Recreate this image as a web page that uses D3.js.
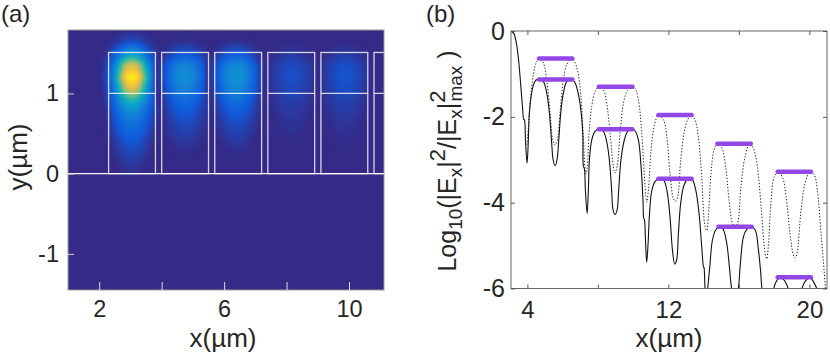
<!DOCTYPE html>
<html>
<head>
<meta charset="utf-8">
<script src="https://cdn.jsdelivr.net/npm/d3@7"></script>
<style>
  html, body { margin: 0; background: #fff; }
  text { font-family: "Liberation Sans", Arial, sans-serif; fill: #262626; }
</style>
</head>
<body>
<svg id="chart" width="830" height="357"></svg>
<script>
// panel (a), field on a coarse grid, one half of each mode (mirrored below)
const gridY = [1.8, 1.65, 1.5, 1.35, 1.2, 1.05, 0.9, 0.75, 0.6, 0.45, 0.3, 0.15, 0, -0.15]
const gridOffset = [0, 0.2, 0.4, 0.6, 0.8, 1.0]
const brightMode = [
  [0, 0, 0, 0, 0, 0],
  [0.09, 0.08, 0.05, 0.025, 0.008, 0],
  [0.34, 0.30, 0.21, 0.11, 0.035, 0.002],
  [0.80, 0.72, 0.46, 0.22, 0.08, 0.008],
  [1, 0.93, 0.60, 0.27, 0.10, 0.01],
  [0.80, 0.70, 0.44, 0.21, 0.08, 0.008],
  [0.46, 0.40, 0.28, 0.16, 0.05, 0.002],
  [0.27, 0.25, 0.19, 0.11, 0.03, 0],
  [0.19, 0.18, 0.14, 0.08, 0.015, 0],
  [0.14, 0.13, 0.09, 0.045, 0.008, 0],
  [0.09, 0.08, 0.055, 0.02, 0, 0],
  [0.05, 0.045, 0.025, 0.006, 0, 0],
  [0.018, 0.014, 0.006, 0, 0, 0],
  [0, 0, 0, 0, 0, 0]
]
const dimMode = [
  [0, 0, 0, 0, 0, 0],
  [0.06, 0.05, 0.03, 0.01, 0, 0],
  [0.40, 0.36, 0.26, 0.14, 0.04, 0],
  [0.90, 0.82, 0.64, 0.38, 0.12, 0.01],
  [1, 0.93, 0.72, 0.44, 0.14, 0.01],
  [0.86, 0.78, 0.60, 0.35, 0.11, 0.01],
  [0.58, 0.53, 0.40, 0.23, 0.06, 0],
  [0.40, 0.37, 0.27, 0.15, 0.03, 0],
  [0.27, 0.24, 0.17, 0.09, 0.01, 0],
  [0.17, 0.15, 0.10, 0.04, 0, 0],
  [0.07, 0.06, 0.03, 0.01, 0, 0],
  [0.01, 0, 0, 0, 0, 0],
  [0, 0, 0, 0, 0, 0],
  [0, 0, 0, 0, 0, 0]
]
const modeCentres = [3.05, 4.75, 6.4, 8.17, 9.87]
const modeAmps = [1, 0.31, 0.33, 0.10, 0.115]
const boxLeft = [2.3, 4.0, 5.7, 7.4, 9.1, 10.8]
const boxWidth = 1.5
const boxTop = 1.51
const boxMid = 1.0
const parula = ['#352a87', '#0f5cdd', '#1481d6', '#06a4ca', '#2eb7a4', '#87bf77', '#d1bb59', '#fec832', '#f9fb0e']

// panel (b), curves
const solidX = [3.07, 3.22, 3.36, 3.49, 3.60, 3.72, 3.79, 3.83, 3.89, 3.98, 4.04, 4.11, 4.21, 4.34, 4.49, 4.68,
  4.91, 5.10, 5.25, 5.38, 5.46, 5.57, 5.68, 5.78, 5.89, 6.04, 6.23, 6.48,
  6.67, 6.86, 7.01, 7.14, 7.18, 7.23, 7.29, 7.39, 7.46, 7.52, 7.65, 7.84, 8.07,
  8.31, 8.50, 8.65, 8.78, 8.86, 8.97, 9.09, 9.18, 9.31, 9.50, 9.69, 9.92,
  10.11, 10.30, 10.45, 10.56, 10.60, 10.64, 10.70, 10.77, 10.85, 10.92, 11.05, 11.24, 11.47,
  11.72, 11.91, 12.09, 12.23, 12.36, 12.47, 12.57, 12.70, 12.89, 13.13, 13.36,
  13.55, 13.74, 13.89, 13.99, 14.02, 14.08, 14.16, 14.23, 14.35, 14.50, 14.69, 14.93,
  15.12, 15.31, 15.46, 15.59, 15.78, 15.97, 16.07, 16.26, 16.44, 16.67,
  16.92, 17.11, 17.24, 17.31, 17.64, 17.98, 18.09, 18.34, 18.58, 18.81, 19.19, 19.57, 19.75, 20.04, 20.23, 20.42]
const solidY = [0, -0.05, -0.25, -0.64, -1.14, -1.76, -2.06, -2.07, -2.54, -3.08, -2.69, -1.92, -1.53, -1.26, -1.14, -1.13,
  -1.18, -1.45, -1.92, -2.62, -3.00, -3.14, -3.00, -2.54, -1.92, -1.45, -1.18, -1.13,
  -1.18, -1.41, -1.76, -2.38, -3.16, -3.20, -3.70, -4.25, -3.70, -3.00, -2.54, -2.34, -2.29,
  -2.34, -2.58, -3.00, -3.70, -4.17, -4.28, -4.17, -3.70, -3.00, -2.54, -2.34, -2.29,
  -2.33, -2.54, -3.16, -3.94, -4.36, -4.39, -4.87, -5.39, -4.94, -4.32, -3.74, -3.51, -3.44,
  -3.47, -3.70, -4.32, -5.10, -5.43, -5.33, -4.71, -4.01, -3.59, -3.44,
  -3.47, -3.70, -4.25, -5.02, -5.49, -5.51, -6.0, -6.34, -6.0, -5.49, -4.87, -4.63, -4.56,
  -4.63, -4.94, -5.49, -6.0, -6.3, -6.0, -5.49, -4.79, -4.63, -4.56,
  -4.63, -5.10, -5.64, -6.0, -6.6, -6.0, -5.86, -5.74, -5.81, -6.0, -6.3, -6.0, -5.84, -5.74, -5.84, -6.0]
const dottedX = [3.98, 4.06, 4.19, 4.34, 4.49, 4.68, 4.91, 5.10, 5.29, 5.44, 5.57, 5.70, 5.85, 6.04, 6.23, 6.48,
  6.67, 6.86, 7.04, 7.18, 7.27, 7.33, 7.40, 7.50, 7.65, 7.84, 8.07,
  8.31, 8.50, 8.69, 8.88, 8.97, 9.09, 9.26, 9.45, 9.67, 9.92,
  10.11, 10.30, 10.49, 10.68, 10.77, 10.87, 11.02, 11.21, 11.43,
  11.72, 11.91, 12.09, 12.28, 12.40, 12.53, 12.70, 12.89, 13.10, 13.32,
  13.51, 13.70, 13.89, 14.08, 14.18, 14.27, 14.42, 14.59, 14.78,
  15.03, 15.25, 15.44, 15.63, 15.78, 15.93, 16.12, 16.35, 16.60,
  16.82, 17.05, 17.26, 17.49, 17.58, 17.67, 17.83, 18.01, 18.24,
  18.49, 18.68, 18.90, 19.09, 19.19, 19.30, 19.51, 19.75, 20.04,
  20.27, 20.45, 20.66, 20.89, 20.93]
const dottedY = [-2.65, -2.23, -1.53, -1.02, -0.75, -0.64, -0.75, -1.14, -1.92, -2.54, -2.66, -2.54, -1.92, -1.14, -0.79, -0.64,
  -0.71, -0.95, -1.53, -2.54, -3.20, -3.33, -3.16, -2.38, -1.76, -1.41, -1.30,
  -1.37, -1.68, -2.38, -3.16, -3.31, -3.16, -2.38, -1.68, -1.39, -1.30,
  -1.34, -1.61, -2.38, -3.62, -3.99, -3.70, -2.77, -2.19, -1.96,
  -2.07, -2.46, -3.31, -3.90, -3.97, -3.86, -3.00, -2.38, -2.06, -1.96,
  -2.07, -2.46, -3.39, -4.56, -4.65, -4.32, -3.31, -2.77, -2.63,
  -2.73, -3.16, -3.94, -4.48, -4.60, -4.48, -3.62, -2.93, -2.63,
  -2.73, -3.16, -4.09, -5.18, -5.31, -5.02, -3.94, -3.39, -3.28,
  -3.43, -3.86, -4.71, -5.22, -5.29, -5.18, -4.25, -3.55, -3.28,
  -3.35, -3.70, -4.71, -5.88, -6.22]
const barStart = [4.66, 8.05, 11.43, 14.84, 18.20]
const barEnd = [6.55, 9.96, 13.32, 16.73, 20.09]
const dottedBarStart = [4.66, 8.05, 11.43, 14.78, 18.20]
const dottedBarEnd = [6.55, 9.96, 13.32, 16.68, 20.09]
const solidLevels = [-1.13, -2.29, -3.44, -4.56, -5.74]
const dottedLevels = [-0.64, -1.30, -1.96, -2.63, -3.28]

const svg = d3.select('#chart')
const defs = svg.append('defs')

// ---- panel (a)
const xa = d3.scaleLinear().domain([1, 11.12]).range([68, 384])
const ya = d3.scaleLinear().domain([-1.45, 1.79]).range([290, 30])

defs.append('clipPath').attr('id', 'clipa').append('rect')
  .attr('x', 68).attr('y', 30).attr('width', 316).attr('height', 260)
defs.append('filter').attr('id', 'soften')
  .attr('x', '-5%').attr('y', '-5%').attr('width', '110%').attr('height', '110%')
  .attr('color-interpolation-filters', 'sRGB')
  .append('feGaussianBlur').attr('stdDeviation', 0.8)

const pa = svg.append('g')
pa.append('rect').attr('x', 68).attr('y', 30).attr('width', 316).attr('height', 260).attr('fill', parula[0])

const colour = d3.scaleLinear().domain(d3.range(parula.length).map(d => d / (parula.length - 1))).range(parula)
const levels = d3.range(0.006, 1.001, 0.014)
const nx = gridOffset.length * 2 - 1
const ny = gridY.length
const field = pa.append('g').attr('clip-path', 'url(#clipa)').append('g').attr('filter', 'url(#soften)')

modeCentres.forEach((cx, m) => {
  const half = m === 0 ? brightMode : dimMode
  const values = []
  half.forEach(row => {
    const full = row.slice(1).reverse().concat(row)
    full.forEach(v => values.push(v * modeAmps[m]))
  })
  const offs = gridOffset.slice(1).reverse().map(d => -d).concat(gridOffset)
  const gx = d3.scaleLinear().domain(d3.range(nx)).range(offs)
  const gy = d3.scaleLinear().domain(d3.range(ny)).range(gridY)
  const proj = d3.geoTransform({
    point: function(px, py) {
      this.stream.point(xa(cx + gx(px - 0.5)), ya(gy(py - 0.5)))
    }
  })
  const path = d3.geoPath(proj)
  const cs = d3.contours().size([nx, ny]).thresholds(levels.filter(l => l < modeAmps[m]))(values)
  field.append('g').selectAll('path').data(cs).join('path')
    .attr('d', path)
    .attr('fill', d => colour(d.value))
})

// waveguide outlines
const boxes = pa.append('g').attr('clip-path', 'url(#clipa)')
  .attr('fill', 'none').attr('stroke', '#fff').attr('stroke-opacity', 0.8).attr('stroke-width', 1.3)
boxes.selectAll('rect').data(boxLeft).join('rect')
  .attr('x', d => xa(d)).attr('y', ya(boxTop))
  .attr('width', xa(boxWidth) - xa(0)).attr('height', ya(0) - ya(boxTop))
boxes.selectAll('line.mid').data(boxLeft).join('line').attr('class', 'mid')
  .attr('x1', d => xa(d)).attr('x2', d => xa(d + boxWidth))
  .attr('y1', ya(boxMid)).attr('y2', ya(boxMid))
pa.append('line').attr('x1', 68).attr('x2', 384).attr('y1', ya(0)).attr('y2', ya(0))
  .attr('stroke', '#fff').attr('stroke-opacity', 0.95).attr('stroke-width', 1.3)
pa.append('rect').attr('x', 68).attr('y', 30).attr('width', 316).attr('height', 260)
  .attr('fill', 'none').attr('stroke', '#999').attr('stroke-width', 1)

function styleAxis(g, tickColour, size) {
  g.select('.domain').remove()
  g.selectAll('.tick line').attr('stroke', tickColour)
  g.selectAll('.tick text').style('font-size', size + 'px').attr('fill', '#262626')
    .attr('font-family', null)
}

pa.append('g').attr('transform', 'translate(0,290)')
  .call(d3.axisBottom(xa).tickValues([2, 4, 6, 8, 10]).tickSize(-8).tickPadding(10)
    .tickFormat(d => [2, 6, 10].includes(d) ? d : ''))
  .call(g => styleAxis(g, '#ddd', 23.5))
pa.append('g').attr('transform', 'translate(68,0)')
  .call(d3.axisLeft(ya).tickValues([-1, 0, 1]).tickSize(-6).tickPadding(9).tickFormat(d => String(d)))
  .call(g => styleAxis(g, '#ccc', 23.5))

svg.append('text').attr('x', 1).attr('y', 22).style('font-size', '24px').text('(a)')
svg.append('text').attr('x', 223).attr('y', 347).attr('text-anchor', 'middle').style('font-size', '26px').text('x(µm)')
svg.append('text').attr('transform', 'translate(27,157) rotate(-90)').attr('text-anchor', 'middle')
  .style('font-size', '26px').text('y(µm)')

// ---- panel (b)
const xb = d3.scaleLinear().domain([3.07, 21]).range([511, 827])
const yb = d3.scaleLinear().domain([-6, 0]).range([288.5, 31])

defs.append('clipPath').attr('id', 'clipb').append('rect')
  .attr('x', 511).attr('y', 31).attr('width', 316).attr('height', 257.5)

const pb = svg.append('g')
const plot = pb.append('g').attr('clip-path', 'url(#clipb)')

const line = d3.line().x(d => xb(d[0])).y(d => yb(d[1])).curve(d3.curveCatmullRom.alpha(0.5))
plot.append('path').attr('d', line(d3.zip(dottedX, dottedY)))
  .attr('fill', 'none').attr('stroke', '#222').attr('stroke-width', 1).attr('stroke-dasharray', '1.3 1.8')
plot.append('path').attr('d', line(d3.zip(solidX, solidY)))
  .attr('fill', 'none').attr('stroke', '#111').attr('stroke-width', 1.1)

function bars(starts, ends, lev) {
  plot.append('g').selectAll('line').data(lev).join('line')
    .attr('x1', (d, i) => xb(starts[i])).attr('x2', (d, i) => xb(ends[i]))
    .attr('y1', d => yb(d)).attr('y2', d => yb(d))
    .attr('stroke', '#9247e6').attr('stroke-width', 4.5).attr('stroke-linecap', 'round')
}
bars(dottedBarStart, dottedBarEnd, dottedLevels)
bars(barStart, barEnd, solidLevels)

pb.append('rect').attr('x', 511).attr('y', 31).attr('width', 316).attr('height', 257.5)
  .attr('fill', 'none').attr('stroke', '#666').attr('stroke-width', 1)

pb.append('g').attr('transform', 'translate(0,288.5)')
  .call(d3.axisBottom(xb).tickValues([4, 8, 12, 16, 20]).tickSize(-4).tickPadding(12)
    .tickFormat(d => [4, 12, 20].includes(d) ? d : ''))
  .call(g => styleAxis(g, '#555', 24))
pb.append('g').attr('transform', 'translate(0,31)')
  .call(d3.axisTop(xb).tickValues([4, 8, 12, 16, 20]).tickSize(-4).tickFormat(''))
  .call(g => styleAxis(g, '#555', 24))
pb.append('g').attr('transform', 'translate(511,0)')
  .call(d3.axisLeft(yb).tickValues([-6, -4, -2, 0]).tickSize(-4).tickPadding(6).tickFormat(d => String(d)))
  .call(g => styleAxis(g, '#555', 25))
pb.append('g').attr('transform', 'translate(827,0)')
  .call(d3.axisRight(yb).tickValues([-6, -4, -2, 0]).tickSize(-4).tickFormat(''))
  .call(g => styleAxis(g, '#555', 24))

svg.append('text').attr('x', 426).attr('y', 22).style('font-size', '24px').text('(b)')
svg.append('text').attr('x', 669).attr('y', 347).attr('text-anchor', 'middle').style('font-size', '26px').text('x(µm)')

// y label pieces, sub and superscripts by hand
const yLab = svg.append('text').attr('transform', 'translate(456,161) rotate(-90)')
  .attr('text-anchor', 'middle').style('font-size', '25px')
const labelParts = [
  ['Log', 0, 0], ['10', 6, 0, 19], ['(|E', -6, 0], ['x', 6, 0, 19], ['|', -6, 0], ['2', -11, 0, 22],
  ['/|E', 11, 0], ['x', 6, 0, 19], ['|', -6, 0], ['2', -11, 0, 22], ['max', 17, -11, 19], [' )', -6, 0]
]
labelParts.forEach(p => {
  yLab.append('tspan').attr('dy', p[1]).attr('dx', p[2])
    .style('font-size', (p[3] || 25) + 'px').text(p[0])
})
</script>
</body>
</html>
